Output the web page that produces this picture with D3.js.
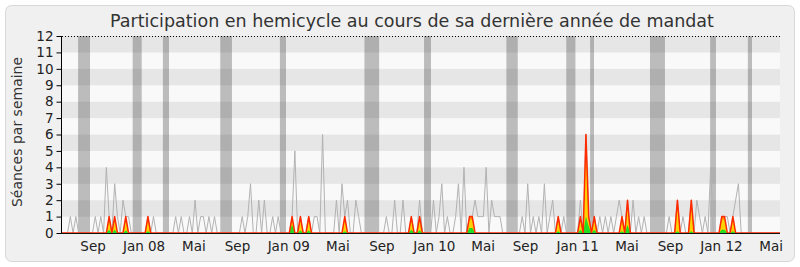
<!DOCTYPE html>
<html>
<head>
<meta charset="utf-8">
<title>participation</title>
<script src="https://cdn.jsdelivr.net/npm/d3@7"></script>
<style>
  html, body { margin: 0; padding: 0; background: #fff; }
  svg { display: block; font-family: "DejaVu Sans", sans-serif; }
</style>
</head>
<body>
<svg width="800" height="267"></svg>
<script>
// séances tenues par semaine (ligne grise), semaine 0 = mi-juin 2007
var seances = [
  0,0,0,1,0,1,0,0,0,0, 0,0,1,0,1,0,4,1,0,3, 1,0,2,1,1,0,0,0,0,0,
  0,1,0,1,0,0,0,0,0,0, 0,1,0,1,0,0,1,0,2,0, 1,1,0,1,0,1,0,0,0,0,
  0,0,0,0,0,1,0,1,3,0, 0,2,0,2,0,0,1,0,1,0, 0,0,0,1,5,0,1,0,0,1,
  0,1,1,0,6,0,0,0,0,2, 0,3,1,2,0,0,2,1,0,0, 0,0,0,0,0,0,0,1,0,0,
  2,0,0,2,0,0,1,0,0,2, 0,0,0,0,2,0,1,3,0,1, 0,0,1,3,0,4,0,1,1,2,
  1,1,1,4,0,2,1,1,1,0, 0,0,0,0,0,0,1,0,3,0, 1,0,1,0,3,0,1,2,0,1,
  0,1,0,0,0,0,0,2,0,6, 1,0,1,0,1,0,1,0,1,0, 1,2,1,0,2,0,2,0,1,0,
  1,0,0,0,0,0,0,0,0,1, 0,0,2,0,1,0,0,2,0,2, 1,0,1,0,4,0,0,0,1,1,
  1,0,1,2,3,0,0,0,0,0, 0,0,0,0,0,0,0,0,0,0
];

// semaines où le député est présent
var semainesPresence = [17,19,23,31,83,86,89,102,126,129,147,148,179,187,189,190,192,202,204,222,227,238,239,242];
var presences       = [1,1,1,1,1,1,1,1,1,1,1,1,1,1,6,1,1,1,2,2,2,1,1,1];
var participations  = [0.75,0.75,0.75,0.75,0.8,0.75,0.75,0.75,0.75,0.75,0.8,0.8,0.75,0.75,5,0.8,0.75,0.75,1.6,1.5,1.5,0.8,0.8,0.75];
var interventions   = [0.2,0.2,0.15,0.1,0.5,0.15,0.15,0.1,0.2,0.15,0.3,0.3,0.1,0.2,1,0.4,0.2,0.1,0.5,0.1,0.1,0.2,0.2,0.1];

// vacances parlementaires (en semaines)
var vacancesDebut = [5.8,25.5,36.4,57.1,78.6,109.1,130.6,160.3,181.9,190.5,212.1,233.8,247.4];
var vacancesFin   = [10.1,28.75,38.6,61.3,80.8,114.4,133.1,164.4,185.2,191.9,217.5,235.9,248.9];

// étiquettes de l'axe des x
var moisSemaines = [11.2,29.6,47.6,63.3,81.8,99.5,115.4,134.3,151.9,167.2,186,203.8,219.5,237.9,255.8];
var moisLabels   = ["Sep","Jan 08","Mai","Sep","Jan 09","Mai","Sep","Jan 10","Mai","Sep","Jan 11","Mai","Sep","Jan 12","Mai"];

(function () {
  var svg = d3.select("svg");

  var pLeft = 62, pRight = 780, pTop = 36, pBottom = 233;

  var x = d3.scaleLinear().domain([0, seances.length - 1]).range([pLeft, pRight]);
  var y = d3.scaleLinear().domain([0, 12]).range([pBottom, pTop]);

  // fond
  svg.append("rect")
    .attr("x", 5.5).attr("y", 5.5)
    .attr("width", 789).attr("height", 256)
    .attr("rx", 6)
    .attr("fill", "#f0f0f0")
    .attr("stroke", "#d8d8d8");

  svg.append("text")
    .attr("x", 412).attr("y", 27)
    .attr("text-anchor", "middle")
    .attr("font-size", 17.5)
    .attr("fill", "#333")
    .text("Participation en hemicycle au cours de sa dernière année de mandat");

  // bandes horizontales
  svg.append("g").selectAll("rect")
    .data(d3.range(0, 12))
    .enter().append("rect")
    .attr("x", pLeft).attr("width", pRight - pLeft)
    .attr("y", function (d) { return y(d + 1); })
    .attr("height", function (d) { return y(d) - y(d + 1); })
    .attr("fill", function (d) { return d % 2 ? "#e6e6e6" : "#f9f9f9"; });

  // vacances
  svg.append("g").selectAll("rect")
    .data(vacancesDebut)
    .enter().append("rect")
    .attr("x", function (d) { return x(d); })
    .attr("width", function (d, i) { return x(vacancesFin[i]) - x(d); })
    .attr("y", pTop).attr("height", pBottom - pTop)
    .attr("fill", "rgba(60,60,60,0.32)");

  // séries
  var presenceSerie = seances.map(function () { return 0; });
  var participationSerie = seances.map(function () { return 0; });
  var interventionSerie = seances.map(function () { return 0; });
  semainesPresence.forEach(function (w, i) {
    presenceSerie[w] = presences[i];
    participationSerie[w] = participations[i];
    interventionSerie[w] = interventions[i];
  });

  var line = d3.line()
    .x(function (d, i) { return x(i); })
    .y(function (d) { return y(d); });
  var area = d3.area()
    .x(function (d, i) { return x(i); })
    .y0(y(0))
    .y1(function (d) { return y(d); });

  svg.append("path").datum(seances)
    .attr("d", line)
    .attr("fill", "none")
    .attr("stroke", "#b2b2b2")
    .attr("stroke-width", 1);

  svg.append("path").datum(presenceSerie)
    .attr("d", area)
    .attr("fill", "#ff9500");
  svg.append("path").datum(participationSerie)
    .attr("d", area)
    .attr("fill", "#ffd200");
  svg.append("path").datum(interventionSerie)
    .attr("d", area)
    .attr("fill", "#22dd22");
  svg.append("path").datum(presenceSerie)
    .attr("d", line)
    .attr("fill", "none")
    .attr("stroke", "#ff2a00")
    .attr("stroke-width", 1.5)
    .attr("stroke-linejoin", "round");

  // ligne pointillée du haut
  svg.append("line")
    .attr("x1", pLeft).attr("x2", pRight)
    .attr("y1", pTop + 0.5).attr("y2", pTop + 0.5)
    .attr("stroke", "#000")
    .attr("stroke-dasharray", "1,2");

  // axes
  var yAxis = d3.axisLeft(y).ticks(12).tickSize(5).tickPadding(3);
  var gy = svg.append("g")
    .attr("transform", "translate(" + (pLeft - 0.5) + ",0)")
    .call(yAxis);
  gy.select(".domain").attr("d", "M0," + pTop + "V" + (pBottom + 0.5));
  gy.selectAll("text").attr("font-size", 13.5).attr("fill", "#222").attr("font-family", "DejaVu Sans");

  svg.append("line")
    .attr("x1", pLeft - 1).attr("x2", pRight)
    .attr("y1", pBottom + 0.5).attr("y2", pBottom + 0.5)
    .attr("stroke", "#111");

  svg.append("g").selectAll("text")
    .data(moisSemaines)
    .enter().append("text")
    .attr("x", function (d) { return x(d); })
    .attr("y", 251)
    .attr("text-anchor", "middle")
    .attr("font-size", 13.5)
    .attr("fill", "#222")
    .text(function (d, i) { return moisLabels[i]; });

  svg.append("text")
    .attr("transform", "translate(22,132) rotate(-90)")
    .attr("text-anchor", "middle")
    .attr("font-size", 14)
    .attr("fill", "#333")
    .text("Séances par semaine");
})();
</script>
</body>
</html>
